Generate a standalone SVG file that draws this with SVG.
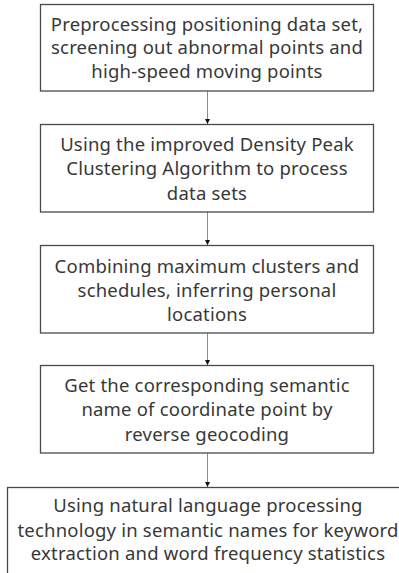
<svg xmlns="http://www.w3.org/2000/svg" width="399" height="573" viewBox="0 0 399 573">
  <style>
    .box { fill: #ffffff; stroke: #4a4a4a; stroke-width: 1.3; }
    .lbl { font-family: "Noto Sans", "DejaVu Sans", sans-serif; font-size: 18.5px; letter-spacing: 0.2px; fill: #383838; text-anchor: middle; }
    .edge { stroke: #8c8c8c; stroke-width: 1; fill: none; marker-end: url(#head); }
  </style>
  <defs>
    <marker id="head" markerWidth="6" markerHeight="6" refX="5" refY="3" orient="auto" markerUnits="userSpaceOnUse">
      <path d="M0,0.5 L5,3 L0,5.5 Z" fill="#111111"/>
    </marker>
  </defs>
  <rect width="399" height="573" fill="#ffffff"/>

  <g id="connectors">
    <line class="edge" x1="207.5" y1="91" x2="207.5" y2="124"/>
    <line class="edge" x1="207.5" y1="212" x2="207.5" y2="245"/>
    <line class="edge" x1="207.5" y1="333" x2="207.5" y2="365"/>
    <line class="edge" x1="207.5" y1="453" x2="207.5" y2="487"/>
  </g>

  <g id="step1">
    <rect class="box" x="40.5" y="4.5" width="333" height="86.5"/>
    <text class="lbl" x="207" y="30.5">Preprocessing positioning data set,</text>
    <text class="lbl" x="207" y="54">screening out abnormal points and</text>
    <text class="lbl" x="207" y="77.5">high-speed moving points</text>
  </g>

  <g id="step2">
    <rect class="box" x="40.5" y="124.5" width="333" height="87.5"/>
    <text class="lbl" x="207" y="151">Using the improved Density Peak</text>
    <text class="lbl" x="207" y="175">Clustering Algorithm to process</text>
    <text class="lbl" x="207" y="200">data sets</text>
  </g>

  <g id="step3">
    <rect class="box" x="40.5" y="245.5" width="333" height="87.5"/>
    <text class="lbl" x="207" y="273">Combining maximum clusters and</text>
    <text class="lbl" x="207" y="297">schedules, inferring personal</text>
    <text class="lbl" x="207" y="321">locations</text>
  </g>

  <g id="step4">
    <rect class="box" x="40.5" y="365.5" width="333" height="87.5"/>
    <text class="lbl" x="207" y="392">Get the corresponding semantic</text>
    <text class="lbl" x="207" y="416">name of coordinate point by</text>
    <text class="lbl" x="207" y="440.5">reverse geocoding</text>
  </g>

  <g id="step5">
    <rect class="box" x="7.5" y="487.5" width="400" height="100"/>
    <text class="lbl" x="208" y="512">Using natural language processing</text>
    <text class="lbl" x="208" y="536.5">technology in semantic names for keyword</text>
    <text class="lbl" x="208" y="560">extraction and word frequency statistics</text>
  </g>
</svg>
